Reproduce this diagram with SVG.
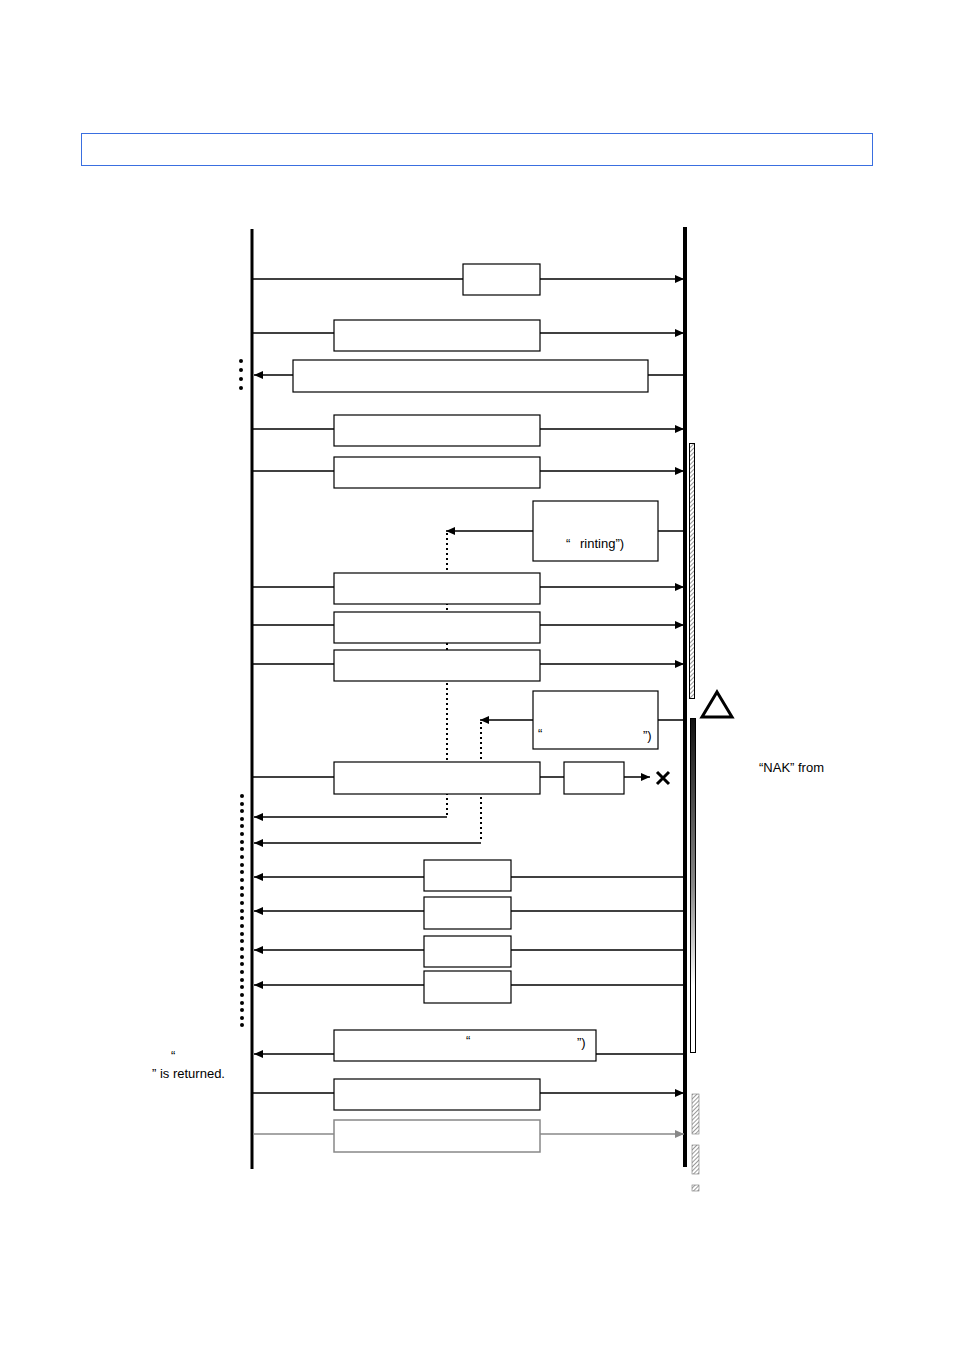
<svg xmlns="http://www.w3.org/2000/svg" width="954" height="1350" viewBox="0 0 954 1350">
<style>
.b{fill:#fff;stroke:#000;stroke-width:1.2}
.g{fill:#fff;stroke:#888;stroke-width:1.5}
.l{stroke:#000;stroke-width:1.5;fill:none}
.lg{stroke:#888;stroke-width:1.5;fill:none}
.d{stroke:#000;stroke-width:2;stroke-dasharray:2,3;fill:none}
text{font-family:"Liberation Sans",Arial,sans-serif;font-size:13px;fill:#000}
</style>
<defs>
<marker id="a" markerWidth="10" markerHeight="8" refX="9" refY="4" orient="auto" markerUnits="userSpaceOnUse"><path d="M0,0L9,4L0,8z" fill="#000"/></marker>
<marker id="ag" markerWidth="10" markerHeight="8" refX="9" refY="4" orient="auto" markerUnits="userSpaceOnUse"><path d="M0,0L9,4L0,8z" fill="#888"/></marker>
<pattern id="h" width="3" height="3" patternUnits="userSpaceOnUse" patternTransform="rotate(45)"><rect width="3" height="3" fill="#fff"/><line x1="0" y1="0" x2="0" y2="3" stroke="#555" stroke-width="1.2"/></pattern>
<linearGradient id="gr" x1="0" y1="0" x2="0" y2="1"><stop offset="0" stop-color="#111"/><stop offset="0.5" stop-color="#888"/><stop offset="0.8" stop-color="#fff"/><stop offset="1" stop-color="#fff"/></linearGradient>
</defs>
<rect x="81.5" y="133.5" width="791" height="32" fill="#fff" stroke="#3a6fe0" stroke-width="1"/>
<g id="lifelines">
<line x1="252" y1="229" x2="252" y2="1169" stroke="#000" stroke-width="3"/>
<line x1="685" y1="227" x2="685" y2="1167" stroke="#000" stroke-width="4"/>
</g>
<g id="bars">
<rect x="689.5" y="443.5" width="5" height="255" fill="url(#h)" stroke="#000" stroke-width="1"/>
<rect x="690.5" y="718.5" width="5" height="334" fill="url(#gr)" stroke="#000" stroke-width="1"/>
<rect x="692" y="1094" width="7" height="40" fill="url(#h)" stroke="#777" stroke-width="0.6"/>
<rect x="692" y="1145" width="7" height="29" fill="url(#h)" stroke="#777" stroke-width="0.6"/>
<rect x="692" y="1185" width="7" height="6" fill="url(#h)" stroke="#777" stroke-width="0.6"/>
<path d="M717,692L732,717L702,717z" fill="#fff" stroke="#000" stroke-width="3"/>
</g>
<g id="dots" fill="#000">
<circle cx="241" cy="361" r="2"/><circle cx="241" cy="370" r="2"/><circle cx="241" cy="379" r="2"/><circle cx="241" cy="388" r="2"/>
<circle cx="242" cy="796" r="2"/><circle cx="242" cy="804" r="2"/><circle cx="242" cy="811" r="2"/><circle cx="242" cy="819" r="2"/><circle cx="242" cy="826" r="2"/><circle cx="242" cy="834" r="2"/><circle cx="242" cy="842" r="2"/><circle cx="242" cy="849" r="2"/><circle cx="242" cy="857" r="2"/><circle cx="242" cy="865" r="2"/><circle cx="242" cy="872" r="2"/><circle cx="242" cy="880" r="2"/><circle cx="242" cy="888" r="2"/><circle cx="242" cy="895" r="2"/><circle cx="242" cy="903" r="2"/><circle cx="242" cy="911" r="2"/><circle cx="242" cy="918" r="2"/><circle cx="242" cy="926" r="2"/><circle cx="242" cy="934" r="2"/><circle cx="242" cy="941" r="2"/><circle cx="242" cy="949" r="2"/><circle cx="242" cy="957" r="2"/><circle cx="242" cy="964" r="2"/><circle cx="242" cy="972" r="2"/><circle cx="242" cy="980" r="2"/><circle cx="242" cy="987" r="2"/><circle cx="242" cy="995" r="2"/><circle cx="242" cy="1003" r="2"/><circle cx="242" cy="1010" r="2"/><circle cx="242" cy="1018" r="2"/><circle cx="242" cy="1025" r="2"/>
</g>
<g id="connectors">
<line class="l" x1="253" y1="279" x2="684" y2="279" marker-end="url(#a)"/>
<line class="l" x1="253" y1="333" x2="684" y2="333" marker-end="url(#a)"/>
<line class="l" x1="684" y1="375" x2="254" y2="375" marker-end="url(#a)"/>
<line class="l" x1="253" y1="429" x2="684" y2="429" marker-end="url(#a)"/>
<line class="l" x1="253" y1="471" x2="684" y2="471" marker-end="url(#a)"/>
<line class="l" x1="684" y1="531" x2="446" y2="531" marker-end="url(#a)"/>
<line class="l" x1="253" y1="587" x2="684" y2="587" marker-end="url(#a)"/>
<line class="l" x1="253" y1="625" x2="684" y2="625" marker-end="url(#a)"/>
<line class="l" x1="253" y1="664" x2="684" y2="664" marker-end="url(#a)"/>
<line class="l" x1="684" y1="720" x2="480" y2="720" marker-end="url(#a)"/>
<line class="l" x1="253" y1="777" x2="564" y2="777"/>
<line class="l" x1="624" y1="777" x2="650" y2="777" marker-end="url(#a)"/>
<path d="M657,772L669,784M669,772L657,784" stroke="#000" stroke-width="3"/>
<line class="d" x1="447" y1="533" x2="447" y2="816"/>
<line class="d" x1="481" y1="722" x2="481" y2="842"/>
<polyline class="l" points="447,817 254,817" marker-end="url(#a)"/>
<polyline class="l" points="481,843 254,843" marker-end="url(#a)"/>
<line class="l" x1="684" y1="877" x2="254" y2="877" marker-end="url(#a)"/>
<line class="l" x1="684" y1="911" x2="254" y2="911" marker-end="url(#a)"/>
<line class="l" x1="684" y1="950" x2="254" y2="950" marker-end="url(#a)"/>
<line class="l" x1="684" y1="985" x2="254" y2="985" marker-end="url(#a)"/>
<line class="l" x1="684" y1="1054" x2="254" y2="1054" marker-end="url(#a)"/>
<line class="l" x1="253" y1="1093" x2="684" y2="1093" marker-end="url(#a)"/>
<line class="lg" x1="253" y1="1134" x2="684" y2="1134" marker-end="url(#ag)"/>
</g>
<g id="n1"><rect class="b" x="463" y="264" width="77" height="31"/></g>
<g id="n2"><rect class="b" x="334" y="320" width="206" height="31"/></g>
<g id="n3"><rect class="b" x="293" y="360" width="355" height="32"/></g>
<g id="n4"><rect class="b" x="334" y="415" width="206" height="31"/></g>
<g id="n5"><rect class="b" x="334" y="457" width="206" height="31"/></g>
<g id="n6"><rect class="b" x="533" y="501" width="125" height="60"/><text x="566" y="548">“</text><text x="580" y="548">rinting”)</text></g>
<g id="n7"><rect class="b" x="334" y="573" width="206" height="31"/></g>
<g id="n8"><rect class="b" x="334" y="612" width="206" height="31"/></g>
<g id="n9"><rect class="b" x="334" y="650" width="206" height="31"/></g>
<g id="n10"><rect class="b" x="533" y="691" width="125" height="58"/><text x="538" y="738" font-size="10">“</text><text x="643" y="740">”)</text></g>
<g id="n11"><rect class="b" x="334" y="762" width="206" height="32"/></g>
<g id="n12"><rect class="b" x="564" y="762" width="60" height="32"/></g>
<g id="n13"><rect class="b" x="424" y="860" width="87" height="31"/></g>
<g id="n14"><rect class="b" x="424" y="897" width="87" height="32"/></g>
<g id="n15"><rect class="b" x="424" y="936" width="87" height="31"/></g>
<g id="n16"><rect class="b" x="424" y="971" width="87" height="32"/></g>
<g id="n17"><rect class="b" x="334" y="1030" width="262" height="31"/><text x="466" y="1045" font-size="10">“</text><text x="577" y="1047">”)</text></g>
<g id="n18"><rect class="b" x="334" y="1079" width="206" height="31"/></g>
<g id="n19"><rect class="g" x="334" y="1120" width="206" height="32"/></g>
<text x="759" y="772">“NAK” from</text>
<text x="171" y="1060" font-size="10">“</text>
<text x="152" y="1078">” is returned.</text>
</svg>
